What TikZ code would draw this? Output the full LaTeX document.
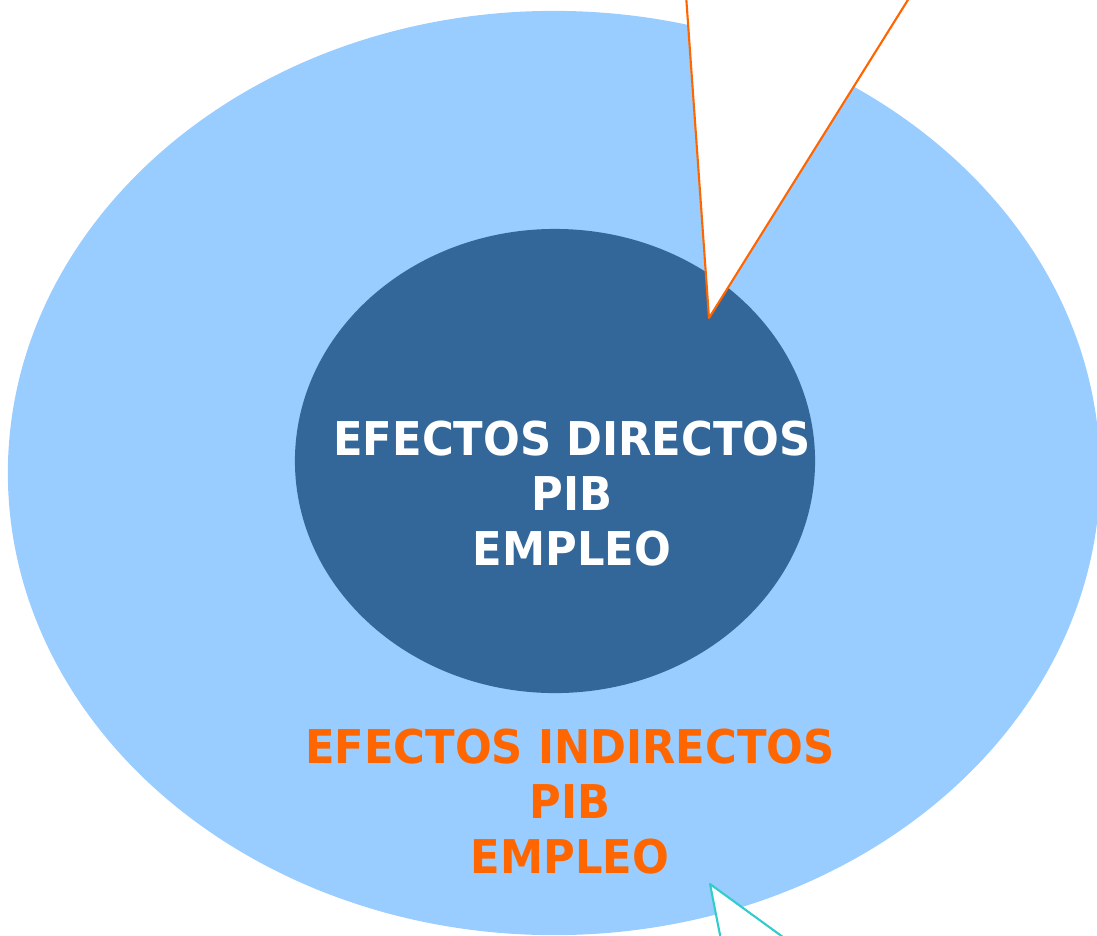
\documentclass[tikz,border=0pt]{standalone}
\usepackage{fontspec}
\newfontfamily\efectos[FakeStretch=0.93]{DejaVu Sans}
\definecolor{celeste}{HTML}{99CCFF}
\definecolor{azul}{HTML}{336699}
\definecolor{naranja}{HTML}{FF6600}
\definecolor{turquesa}{HTML}{33CCCC}
\begin{document}
\begin{tikzpicture}[x=.025cm,y=-.025cm,line join=round,line cap=round,
		font=\efectos\bfseries\fontsize{33.1pt}{39.1pt}\selectfont]
				\useasboundingbox (0,0) rectangle (1097,935);
				\clip (0,0) rectangle (1097,935);
				\fill[celeste] (554,473) ellipse [x radius=13.65cm, y radius=11.55cm];
				\fill[azul] (555,461) ellipse [x radius=6.5cm, y radius=5.8cm];
				% callouts
				\coordinate (P) at (709,318);
				\coordinate (Q) at (710,884);
				\fill[white] (686,-5)--(P)--(911,-5)--cycle;
				\draw[naranja,line width=1.5pt] (686,-5)--(P)--(911,-5);
				\fill[white] (721,940)--(Q)--(787,940)--cycle;
				\draw[turquesa,line width=1.5pt] (721,940)--(Q)--(787,940);
				\path
				(572,494) node[align=center,white] (D) {EFECTOS DIRECTOS\\PIB\\EMPLEO}
				(570,802) node[align=center,naranja] (I) {EFECTOS INDIRECTOS\\PIB\\EMPLEO}
				;
		\end{tikzpicture}
\end{document}
